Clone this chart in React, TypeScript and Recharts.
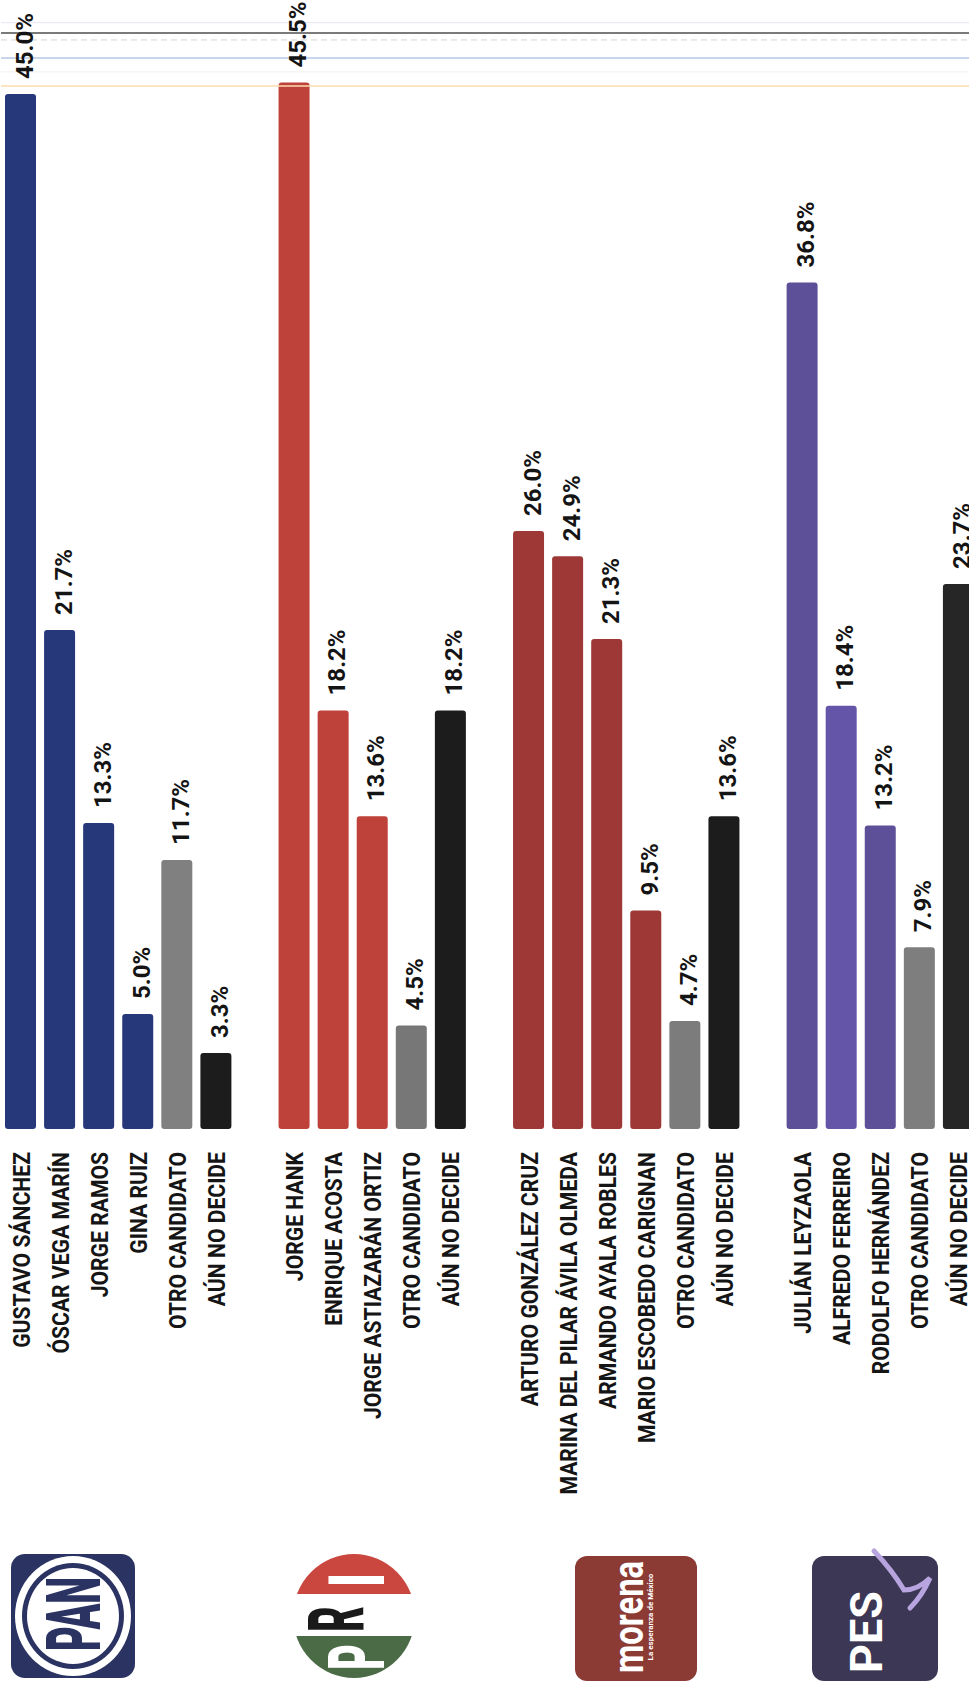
import React from 'react'
import { BarChart, Bar, XAxis, YAxis, Cell, LabelList, ReferenceLine } from 'recharts'

// candidates and percentages per party, in drawing order
const panCandidates = ['GUSTAVO SÁNCHEZ', 'ÓSCAR VEGA MARÍN', 'JORGE RAMOS', 'GINA RUIZ', 'OTRO CANDIDATO', 'AÚN NO DECIDE']
const panValues = [45.0, 21.7, 13.3, 5.0, 11.7, 3.3]

const priCandidates = ['JORGE HANK', 'ENRIQUE ACOSTA', 'JORGE ASTIAZARÁN ORTIZ', 'OTRO CANDIDATO', 'AÚN NO DECIDE']
const priValues = [45.5, 18.2, 13.6, 4.5, 18.2]

const morenaCandidates = [
  'ARTURO GONZÁLEZ CRUZ',
  'MARINA DEL PILAR ÁVILA OLMEDA',
  'ARMANDO AYALA ROBLES',
  'MARIO ESCOBEDO CARIGNAN',
  'OTRO CANDIDATO',
  'AÚN NO DECIDE',
]
const morenaValues = [26.0, 24.9, 21.3, 9.5, 4.7, 13.6]

const pesCandidates = ['JULIÁN LEYZAOLA', 'ALFREDO FERREIRO', 'RODOLFO HERNÁNDEZ', 'OTRO CANDIDATO', 'AÚN NO DECIDE']
const pesValues = [36.8, 18.4, 13.2, 7.9, 23.7]

// bar colours, same order as above
const panColors = ['#26387A', '#26387A', '#26387A', '#26387A', '#808080', '#1C1C1C']
const priColors = ['#BE413A', '#BE413A', '#BE413A', '#777777', '#1C1C1C']
const morenaColors = ['#9E3836', '#9E3836', '#9E3836', '#9E3836', '#7C7C7C', '#1C1C1C']
const pesColors = ['#5E5098', '#6555A8', '#5E5098', '#7E7E7E', '#262626']

const groups = [
  { names: panCandidates, values: panValues, colors: panColors },
  { names: priCandidates, values: priValues, colors: priColors },
  { names: morenaCandidates, values: morenaValues, colors: morenaColors },
  { names: pesCandidates, values: pesValues, colors: pesColors },
]

type Row = { id: string; name: string; value: number | null; color: string }

// one empty slot between parties
const rows: Row[] = []
groups.forEach((g, gi) => {
  if (gi > 0) rows.push({ id: `gap-${gi}`, name: '', value: null, color: 'none' })
  g.names.forEach((name, i) => {
    rows.push({ id: `${gi}-${i}`, name, value: g.values[i], color: g.colors[i] })
  })
})

const nameById: Record<string, string> = {}
rows.forEach((r) => (nameById[r.id] = r.name))

function CategoryTick(props: any) {
  const { x, y, payload } = props
  const label = nameById[payload.value] ?? ''
  if (!label) return null
  return (
    <g transform={`translate(${x + 9},${y + 23}) rotate(-90)`}>
      <text
        x={0}
        y={0}
        textAnchor="end"
        fontFamily="Roboto, 'Open Sans', sans-serif"
        fontWeight={700}
        fontSize={23}
        fill="#151515"
        transform="scale(0.92,1)"
      >
        {label}
      </text>
    </g>
  )
}

function ValueLabel(props: any) {
  const { x, y, width, value } = props
  if (value == null) return null
  const bx = Number(x) + Number(width) / 2 + 12
  const by = Number(y) - 15
  return (
    <text
      transform={`translate(${bx},${by}) rotate(-90)`}
      textAnchor="start"
      fontFamily="Roboto, sans-serif"
      fontWeight={700}
      fontSize={24}
      fill="#141414"
    >
      {`${Number(value).toFixed(1)}%`}
    </text>
  )
}

function Logos() {
  return (
    <svg width={969} height={1687} style={{ position: 'absolute', left: 0, top: 0, pointerEvents: 'none' }}>
      <defs>
        <clipPath id="pri-clip">
          <ellipse cx={354} cy={1616} rx={61} ry={62} />
        </clipPath>
      </defs>

      {/* PAN */}
      <rect x={11} y={1554} width={124} height={124} rx={14} fill="#2A3362" />
      <ellipse cx={73} cy={1616} rx={58} ry={60} fill="#fff" />
      <ellipse cx={73} cy={1616} rx={51} ry={53} fill="#2A3362" />
      <ellipse cx={73} cy={1616} rx={46} ry={48} fill="#fff" />
      <text
        transform="translate(100,1614) rotate(-90) scale(0.5,1)"
        textAnchor="middle"
        fontFamily="Roboto, sans-serif"
        fontWeight={900}
        fontSize={76}
        fill="#2A3362"
      >
        PAN
      </text>

      {/* PRI */}
      <g clipPath="url(#pri-clip)">
        <rect x={290} y={1550} width={130} height={44} fill="#C9473F" />
        <rect x={290} y={1594} width={130} height={42} fill="#fff" />
        <rect x={290} y={1636} width={130} height={46} fill="#4B6B47" />
      </g>
      <text transform="translate(384,1657) rotate(-90) scale(0.5,1)" textAnchor="middle" fontFamily="Roboto, sans-serif" fontWeight={900} fontSize={78} fill="#fff">
        P
      </text>
      <text transform="translate(364,1619) rotate(-90) scale(0.5,1)" textAnchor="middle" fontFamily="Roboto, sans-serif" fontWeight={900} fontSize={78} fill="#1A1A1A">
        R
      </text>
      <text transform="translate(384,1580) rotate(-90) scale(0.6,1)" textAnchor="middle" fontFamily="Roboto, sans-serif" fontWeight={900} fontSize={78} fill="#fff">
        I
      </text>

      {/* morena */}
      <rect x={575} y={1556} width={122} height={125} rx={12} fill="#8B3A34" />
      <text transform="translate(643,1617) rotate(-90) scale(0.78,1)" textAnchor="middle" fontFamily="Roboto, sans-serif" fontWeight={700} fontSize={42} fill="#fff">
        morena
      </text>
      <text transform="translate(653,1617) rotate(-90)" textAnchor="middle" fontFamily="Roboto, sans-serif" fontWeight={700} fontSize={8} fill="#fff">
        La esperanza de México
      </text>

      {/* PES */}
      <rect x={812} y={1556} width={126} height={125} rx={12} fill="#3D3756" />
      <text transform="translate(882,1632) rotate(-90)" textAnchor="middle" fontFamily="Roboto, sans-serif" fontWeight={700} fontSize={45} fill="#fff">
        PES
      </text>
      <path d="M874 1551 Q892 1570 904 1590 Q918 1590 930 1578 Q922 1596 910 1608" fill="none" stroke="#B8A4DE" strokeWidth={5} strokeLinecap="round" />
    </svg>
  )
}

export default function App() {
  return (
    <div style={{ position: 'absolute', left: 0, top: 0, width: 969, height: 1687, overflow: 'hidden', background: '#fff' }}>
      <BarChart width={978} height={1530} data={rows} margin={{ top: 2, right: 0, bottom: 0, left: 1 }}>
        <YAxis hide type="number" domain={[0, 49]} />
        <XAxis
          dataKey="id"
          type="category"
          height={401}
          interval={0}
          axisLine={false}
          tickLine={false}
          tickSize={0}
          tickMargin={0}
          tick={(p: any) => <CategoryTick {...p} />}
        />
        <ReferenceLine y={48.1} stroke="#E6E4F2" strokeWidth={1} />
        <ReferenceLine y={47.65} stroke="#7A7A7A" strokeWidth={2} />
        <ReferenceLine y={47.35} stroke="#D4D4D4" strokeWidth={1} strokeDasharray="6 4" />
        <ReferenceLine y={46.57} stroke="#B6C9E6" strokeWidth={1.5} />
        <ReferenceLine y={45.96} stroke="#EFEFEF" strokeWidth={1} />
        <ReferenceLine y={45.35} stroke="#FBDCB2" strokeWidth={1.5} />
        <Bar dataKey="value" barSize={31} radius={3} isAnimationActive={false}>
          {rows.map((r) => (
            <Cell key={r.id} fill={r.color} />
          ))}
          <LabelList dataKey="value" content={(p: any) => <ValueLabel {...p} />} />
        </Bar>
      </BarChart>
      <Logos />
    </div>
  )
}
